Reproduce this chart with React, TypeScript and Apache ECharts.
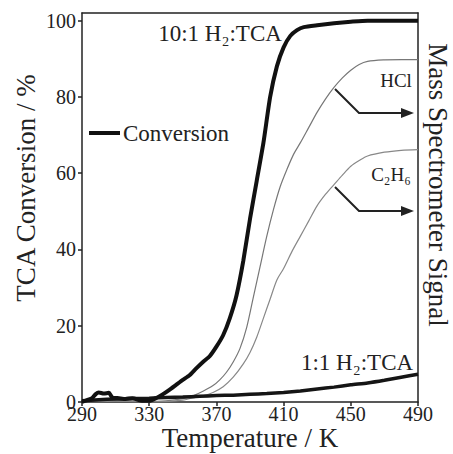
import React, { useEffect, useRef } from "react";
import * as echarts from "echarts";

// Temperature (K) grids and values
const convTemps = [290, 293, 296, 298, 300, 303, 306, 308, 312, 316, 320, 325, 330, 334, 338, 342, 346, 350, 354, 358, 362, 366, 370, 374, 378, 382, 386, 390, 394, 398, 402, 406, 410, 414, 418, 422, 430, 440, 450, 460, 470, 480, 490];
const conv10to1 = [0, 0.5, 1, 2, 2.5, 2.2, 2.4, 1.2, 1, 0.8, 1, 0.4, 0.3, 1, 2, 3.2, 4.5, 5.8, 7, 8.8, 10.5, 12, 14.5, 17.5, 22, 28, 37, 48, 58, 68, 80, 88, 93, 96, 97.5, 98.3, 98.8, 99.3, 99.7, 100, 100, 100, 100];

const hclTemps = [290, 300, 310, 320, 330, 340, 350, 356, 362, 368, 372, 376, 380, 384, 388, 392, 396, 400, 404, 408, 412, 416, 420, 425, 430, 435, 440, 445, 450, 455, 460, 470, 480, 490];
const hclSignal = [0.3, 0.2, 0.3, 0.2, 0.1, 0.3, 0.9, 1.6, 2.8, 4.3, 5.8, 7.8, 10.5, 14, 19.5, 27.5, 35.5, 43.5, 50.5, 56.5, 61, 65, 68, 72, 76, 79.5, 82.5, 85, 87, 88.5, 89.3, 89.7, 89.8, 89.8];

const c2h6Temps = [290, 300, 310, 320, 330, 340, 350, 356, 362, 368, 374, 380, 386, 390, 394, 398, 402, 406, 410, 415, 420, 425, 430, 435, 440, 445, 450, 455, 460, 470, 480, 490];
const c2h6Signal = [0.2, 0.1, 0.2, 0.1, 0, 0.1, 0.5, 1.1, 1.6, 2.5, 4, 6.5, 10, 13, 17, 22, 27, 32, 35, 39.5, 43.5, 47.5, 51.5, 54.5, 57, 59.5, 61.8, 63.3, 64.5, 65.5, 66, 66.2];

const conv1to1Temps = [290, 300, 310, 320, 330, 340, 350, 360, 370, 380, 390, 400, 410, 420, 430, 440, 450, 460, 470, 480, 490];
const conv1to1 = [0.3, 0.6, 0.8, 0.9, 1.0, 1.2, 1.3, 1.5, 1.7, 1.8, 2.0, 2.2, 2.5, 2.9, 3.4, 3.9, 4.5, 5.0, 5.7, 6.5, 7.3];

const xTicks = [290, 330, 370, 410, 450, 490];
const yTicks = [0, 20, 40, 60, 80, 100];

const FONT = "Liberation Serif";

const pair = (xs: number[], ys: number[]) => xs.map((x, i) => [x, ys[i]]);

export default function App() {
  const ref = useRef<HTMLDivElement>(null);
  useEffect(() => {
    const chart = echarts.init(ref.current!, null, { renderer: "svg" });
    const axisColor = "#222";
    chart.setOption({
      animation: false,
      backgroundColor: "#fff",
      grid: { left: 82, top: 13, width: 336, height: 389 },
      xAxis: [
        {
          type: "value",
          min: 290,
          max: 490,
          position: "bottom",
          axisLine: { show: true, lineStyle: { color: axisColor, width: 1.5 } },
          axisTick: { show: true, customValues: xTicks, length: 4, lineStyle: { color: axisColor, width: 1.5 } },
          axisLabel: { customValues: xTicks, fontFamily: FONT, fontSize: 20, lineHeight: 10, color: axisColor, margin: 7 },
          splitLine: { show: false },
        },
        {
          type: "value",
          min: 290,
          max: 490,
          position: "top",
          axisLine: { show: true, onZero: false, lineStyle: { color: axisColor, width: 1.5 } },
          axisTick: { show: false },
          axisLabel: { show: false },
          splitLine: { show: false },
        },
      ],
      yAxis: [
        {
          type: "value",
          min: 0,
          max: 102,
          position: "left",
          axisLine: { show: true, lineStyle: { color: axisColor, width: 1.5 } },
          axisTick: { show: true, customValues: yTicks, length: 4, lineStyle: { color: axisColor, width: 1.5 } },
          axisLabel: { customValues: yTicks, fontFamily: FONT, fontSize: 20, lineHeight: 10, color: axisColor, margin: 6 },
          splitLine: { show: false },
        },
        {
          type: "value",
          min: 0,
          max: 102,
          position: "right",
          axisLine: { show: true, onZero: false, lineStyle: { color: axisColor, width: 1.5 } },
          axisTick: { show: false },
          axisLabel: { show: false },
          splitLine: { show: false },
        },
      ],
      series: [
        {
          name: "HCl",
          type: "line",
          data: pair(hclTemps, hclSignal),
          showSymbol: false,
          smooth: 0.3,
          lineStyle: { color: "#777", width: 1.2 },
          z: 2,
        },
        {
          name: "C2H6",
          type: "line",
          data: pair(c2h6Temps, c2h6Signal),
          showSymbol: false,
          smooth: 0.3,
          lineStyle: { color: "#888", width: 1.2 },
          z: 2,
        },
        {
          name: "1:1 H2:TCA",
          type: "line",
          data: pair(conv1to1Temps, conv1to1),
          showSymbol: false,
          smooth: 0.2,
          lineStyle: { color: "#151515", width: 3.5 },
          z: 3,
        },
        {
          name: "10:1 H2:TCA",
          type: "line",
          data: pair(convTemps, conv10to1),
          showSymbol: false,
          smooth: 0.2,
          lineStyle: { color: "#111", width: 4 },
          z: 4,
        },
      ],
      graphic: [
        {
          type: "text",
          x: 220,
          y: 33,
          style: { text: "10:1 H₂:TCA", fontFamily: FONT, fontSize: 23, fill: "#222", align: "center", verticalAlign: "middle" },
        },
        {
          type: "text",
          x: 396,
          y: 80,
          style: { text: "HCl", fontFamily: FONT, fontSize: 19, fill: "#222", align: "center", verticalAlign: "middle" },
        },
        {
          type: "text",
          x: 391,
          y: 174,
          style: { text: "C₂H₆", fontFamily: FONT, fontSize: 19, fill: "#222", align: "center", verticalAlign: "middle" },
        },
        {
          type: "text",
          x: 357,
          y: 362,
          style: { text: "1:1 H₂:TCA", fontFamily: FONT, fontSize: 23, fill: "#222", align: "center", verticalAlign: "middle" },
        },
        {
          type: "line",
          shape: { x1: 89, y1: 133, x2: 120, y2: 133 },
          style: { stroke: "#111", lineWidth: 4 },
        },
        {
          type: "text",
          x: 123,
          y: 133,
          style: { text: "Conversion", fontFamily: FONT, fontSize: 23, fill: "#222", align: "left", verticalAlign: "middle" },
        },
        {
          type: "polyline",
          shape: { points: [[335, 89], [359, 113], [403, 113]] },
          style: { stroke: "#222", lineWidth: 2, fill: null },
        },
        {
          type: "polygon",
          shape: { points: [[401, 108], [414, 113], [401, 118]] },
          style: { fill: "#222" },
        },
        {
          type: "polyline",
          shape: { points: [[335, 187], [359, 211], [403, 211]] },
          style: { stroke: "#222", lineWidth: 2, fill: null },
        },
        {
          type: "polygon",
          shape: { points: [[401, 206], [414, 211], [401, 216]] },
          style: { fill: "#222" },
        },
        {
          type: "text",
          x: 26,
          y: 188,
          rotation: Math.PI / 2,
          style: { text: "TCA Conversion / %", fontFamily: FONT, fontSize: 27, lineHeight: 24, fill: "#222", align: "center", verticalAlign: "middle" },
        },
        {
          type: "text",
          x: 438,
          y: 185,
          rotation: -Math.PI / 2,
          style: { text: "Mass Spectrometer Signal", fontFamily: FONT, fontSize: 27, lineHeight: 24, fill: "#222", align: "center", verticalAlign: "middle" },
        },
        {
          type: "text",
          x: 250,
          y: 438,
          style: { text: "Temperature / K", fontFamily: FONT, fontSize: 27, lineHeight: 24, fill: "#222", align: "center", verticalAlign: "middle" },
        },
      ],
    });
    return () => chart.dispose();
  }, []);
  return <div ref={ref} style={{ position: "fixed", left: 0, top: 0, width: 453, height: 454 }} />;
}
